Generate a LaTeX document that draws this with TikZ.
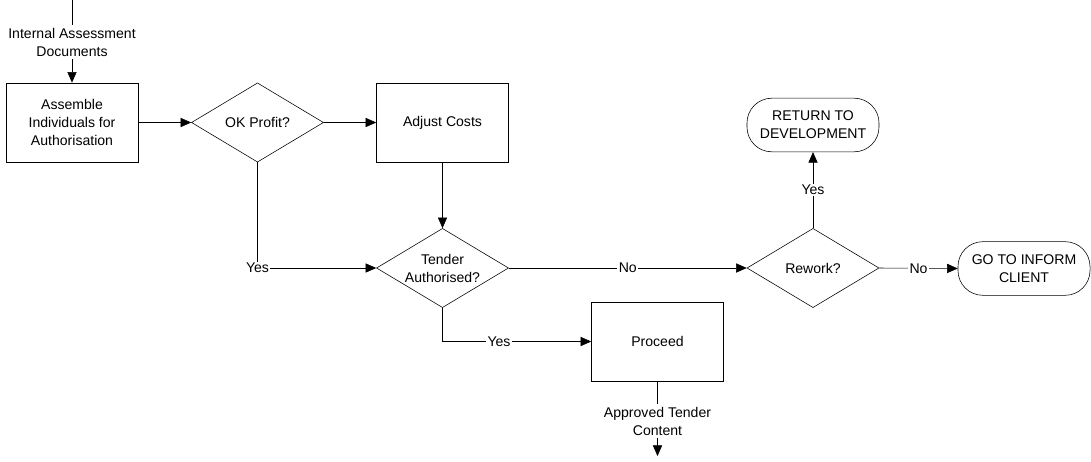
\documentclass[tikz,border=0pt]{standalone}
\usepackage{fontspec}
\setmainfont{Liberation Sans}
\usetikzlibrary{positioning,arrows.meta,shapes.geometric}

\begin{document}
\begin{tikzpicture}[x=0.025cm, y=-0.025cm,
  every node/.style={font=\fontsize{10}{12.8}\selectfont},
  box/.style={draw, minimum width=3.3cm, minimum height=1.98cm, align=center, inner sep=1pt},
  decision/.style={draw, diamond, minimum width=3.3cm, minimum height=1.98cm, align=center, inner sep=-8pt},
  terminal/.style={draw, rounded corners=0.62cm, minimum width=3.3cm, minimum height=1.34cm, align=center, inner sep=1pt},
  flowtext/.style={align=center, inner sep=2pt},
  lbl/.style={fill=white, inner sep=1pt},
  arr/.style={-{Triangle[length=7.5pt,width=6.5pt]}}]
  \useasboundingbox (0,0) rectangle (1091,461);

  \coordinate (intop) at (72,0);
  \node[flowtext] (intext) at (72,42) {Internal Assessment\\Documents};
  \node[box] (assemble) at (72,122.5) {Assemble\\Individuals for\\Authorisation};
  \node[decision] (okprofit) at (257.5,122.5) {OK Profit?};
  \node[box] (adjust) at (442.5,122.5) {Adjust Costs};
  \node[decision] (tender) at (442.5,268) {Tender\\Authorised?};
  \node[box] (proceed) at (657.5,341.5) {Proceed};
  \node[flowtext] (outtext) at (657.5,421) {Approved Tender\\Content};
  \coordinate (outend) at (657.5,456);
  \node[decision] (rework) at (813,268) {Rework?};
  \node[terminal] (retdev) at (813,125) {RETURN TO\\DEVELOPMENT};
  \node[terminal] (inform) at (1024,268.5) {GO TO INFORM\\CLIENT};

  \draw (intop) -- (intext);
  \draw[arr] (intext) -- (assemble);
  \draw[arr] (assemble) -- (okprofit);
  \draw[arr] (okprofit) -- (adjust);
  \draw[arr] (adjust) -- (tender);
  \draw[arr] (okprofit.south) |- node[lbl, pos=0.5] {Yes} (tender.west);
  \draw[arr] (tender.east) -- node[lbl] {No} (rework.west);
  \draw[arr] (tender.south) |- node[lbl, pos=0.69] {Yes} (proceed.west);
  \draw[arr] (rework.north) -- node[lbl] {Yes} (retdev.south);
  \draw[arr] (rework.east) -- node[lbl] {No} (inform.west);
  \draw (proceed) -- (outtext);
  \draw[arr] (outtext) -- (outend);
\end{tikzpicture}
\end{document}
